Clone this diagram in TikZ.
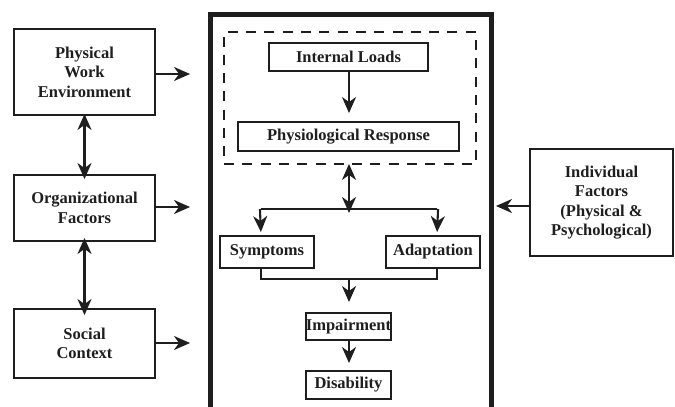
\documentclass[tikz,border=0pt]{standalone}
\usepackage{fontspec}
\setmainfont{Liberation Serif}
\usetikzlibrary{arrows.meta}
\definecolor{ink}{RGB}{30,30,30}
\begin{document}
\begin{tikzpicture}[x=1pt,y=-1pt,
  box/.style={draw=ink,line width=1.9pt,inner sep=0pt,align=center,text=ink,
    font=\fontsize{16.5}{19.5}\selectfont\bfseries},
  tip/.style={},
  conn/.style={draw=ink,line width=2.1pt,-{Stealth[length=16pt,width=14pt,inset=5pt]}},
  dconn/.style={draw=ink,line width=2.1pt,{Stealth[length=16pt,width=14pt,inset=5pt]}-{Stealth[length=16pt,width=14pt,inset=5pt]}},
  plain/.style={draw=ink,line width=2.1pt}]
\useasboundingbox (0,0) rectangle (675,407);
% big frame
\draw[ink,line width=5pt] (210,410) -- (210,14) -- (491,14) -- (491,410);
% dashed box
\node[draw=ink,line width=1.9pt,dash pattern=on 10pt off 8.3pt,minimum width=252pt,minimum height=132pt,inner sep=0pt] (dash) at (350,98) {};
% left nodes
\node[box,minimum width=141pt,minimum height=86pt] (pwe) at (84.5,72) {Physical\\Work\\Environment};
\node[box,minimum width=141pt,minimum height=66pt] (org) at (84.5,208) {Organizational\\Factors};
\node[box,minimum width=141pt,minimum height=69pt] (soc) at (84.5,343.5) {Social\\Context};
\node[box,minimum width=143pt,minimum height=107pt] (ind) at (601.5,202.5) {Individual\\Factors\\(Physical \&\\Psychological)};
% inner nodes
\node[box,minimum width=159pt,minimum height=28pt] (il) at (348.5,57) {Internal Loads};
\node[box,minimum width=221pt,minimum height=29pt] (pr) at (348.5,136.5) {Physiological Response};
\node[box,minimum width=94pt,minimum height=32pt] (sym) at (267,252) {Symptoms};
\node[box,minimum width=94pt,minimum height=32pt] (ada) at (433,252) {Adaptation};
\node[box,minimum width=85pt,minimum height=27pt] (imp) at (348.5,326.5) {Impairment};
\node[box,minimum width=85pt,minimum height=28pt] (dis) at (348.5,385) {Disability};
% coordinates
\coordinate (pweT) at (190,74);
\coordinate (orgT) at (190,207);
\coordinate (socT) at (190,343);
\coordinate (indT) at (496,206);
\coordinate (split) at (349,209);
\coordinate (lt) at (261,209);
\coordinate (rt) at (437,209);
\coordinate (lb) at (261,279);
\coordinate (rb) at (437,279);
\coordinate (merge) at (349,279);
% left arrows
\draw[conn] (pwe.east |- pweT) -- (pweT);
\draw[conn] (org.east |- orgT) -- (orgT);
\draw[conn] (soc.east |- socT) -- (socT);
\draw[conn] (ind.west |- indT) -- (indT);
\draw[dconn] ([yshift=2pt]pwe.south) -- ([yshift=-5pt]org.north);
\draw[dconn] ([yshift=4pt]org.south) -- ([yshift=-7pt]soc.north);
% inner flow
\draw[conn,shorten >=8pt] (il.south -| split) -- (pr.north -| split);
\draw[dconn] ([yshift=1pt]dash.south -| split) -- ([yshift=-4pt]split);
\draw[plain] (lt) -- (rt);
\draw[conn,shorten >=3pt] ([xshift=-1.05pt]lt) -- (lt |- sym.north);
\draw[conn,shorten >=3pt] ([xshift=1.05pt]rt) -- (rt |- ada.north);
\draw[plain] (lt |- sym.south) -- (lb) -- (rb) -- (rt |- ada.south);
\draw[conn,shorten >=10pt] (merge) -- (imp.north -| merge);
\draw[conn,shorten >=7pt] (imp.south -| merge) -- (dis.north -| merge);
\end{tikzpicture}
\end{document}
